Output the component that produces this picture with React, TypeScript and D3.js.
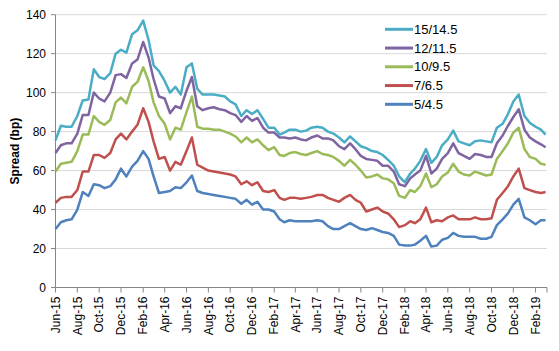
import React from 'react';
import * as d3 from 'd3';

// x-axis tick labels (every two months)
const tickLabels = [
  'Jun-15', 'Aug-15', 'Oct-15', 'Dec-15', 'Feb-16', 'Apr-16', 'Jun-16', 'Aug-16',
  'Oct-16', 'Dec-16', 'Feb-17', 'Apr-17', 'Jun-17', 'Aug-17', 'Oct-17', 'Dec-17',
  'Feb-18', 'Apr-18', 'Jun-18', 'Aug-18', 'Oct-18', 'Dec-18', 'Feb-19'
];
const yTicks = [0, 20, 40, 60, 80, 100, 120, 140];

const seriesNames = ['15/14.5', '12/11.5', '10/9.5', '7/6.5', '5/4.5'];
const seriesColors = ['#4BACC6', '#8064A2', '#9BBB59', '#C0504D', '#4F81BD'];

const s15 = [
  75.5, 83, 82.5, 82.5, 88, 96, 96.5, 112, 108, 107, 110, 120, 122, 120.5,
  130, 132, 137, 127, 114, 111, 106, 100, 103, 99, 113, 115, 102, 99, 99, 99, 98.5, 98, 95.5, 94, 88, 91, 89, 91,
  86.5, 82, 82, 78.5, 79.5, 81, 81, 80, 80.5, 82, 82.5, 82, 80, 79, 77, 74.5, 77.5, 75, 72.5, 71.5, 70, 69.5, 68, 65.5,
  62.5, 57, 54, 58.5, 61, 65, 71, 64, 67, 73, 76, 80.5, 75, 74, 73, 75, 75.5, 75, 74.5, 82, 84, 89, 95.5, 99,
  88, 84.5, 82.5, 81, 78.5
];
const s12 = [
  69, 73, 74, 74, 79, 88.5, 88.5, 100, 97, 95.5, 100, 109, 109.5, 107.5,
  115, 117, 126, 118, 107, 98, 97, 89.5, 93, 92, 101, 108, 93, 91, 92, 92.5, 91.5, 91, 89.5, 88.5, 85, 88, 85.5, 87,
  82, 79.5, 79.5, 77, 77, 76.5, 77, 76, 75.5, 77, 78, 76.5, 76.5, 75.5, 72.5, 71, 74, 71, 67.5, 66, 65.5, 65, 62.5, 62.5,
  59.5, 53, 52, 56, 58, 60, 67.5, 58.5, 61, 66, 69, 74, 69, 67.5, 66, 68.5, 68, 67, 67, 74, 78, 83, 87.5, 91.5,
  81, 77, 75, 73.5, 72
];
const s10 = [
  59.5, 63.5, 64, 64.5, 70, 78.5, 78.5, 88, 85, 83.5, 86, 95, 97.5, 94.5,
  103, 105.5, 113, 106, 95, 88, 84, 76, 82, 81, 90, 98, 82.5, 81.5, 81.5, 81, 81, 80, 79, 77.5, 74.5, 77, 74.5, 76,
  73, 70.5, 72, 68, 67.5, 69, 69.5, 68.5, 68, 69, 70, 68.5, 68, 67, 65, 62.5, 65.5, 63, 60, 56.5, 57, 58, 56, 55.5,
  53.5, 47, 46, 50, 49, 52, 58.5, 51.5, 53, 57, 59, 63.5, 59.5, 58, 57.5, 59.5, 58.5, 57.5, 58, 66, 70, 74, 79.5, 82,
  71, 67, 66, 63.5, 63
];
const s7 = [
  43.5, 46, 46.5, 46.5, 50, 59.5, 59.5, 68, 68, 66.5, 69, 76, 79, 76,
  80, 83.5, 92, 85, 75, 66, 67, 60, 64.5, 63, 70, 77, 63, 61.5, 60, 59.5, 59, 58.5, 58, 57, 53, 54.5, 52.5, 54,
  49.5, 49, 50, 46, 45, 46, 46, 45.5, 46, 46.5, 47.5, 47.5, 46, 45, 44, 46, 47.5, 45, 43.5, 39, 40, 41, 39, 38,
  35, 31, 32, 34, 33, 35, 41, 33.5, 34.5, 34, 36, 37, 35, 35, 35, 36, 35, 35, 35.5, 45, 48.5, 52, 57, 61,
  51, 50, 49, 48.5, 49
];
const s5 = [
  30, 33.5, 34.5, 35, 40, 49, 47, 53, 52.5, 51, 52, 55.5, 61, 57,
  62, 65, 70, 66, 57, 48.5, 49, 49.5, 51.5, 51, 54, 57.5, 49.5, 48.5, 48, 47.5, 47, 46.5, 46, 45.5, 43, 45, 42.5, 44,
  40, 40, 39, 35, 33.5, 34.5, 34, 34, 34, 34, 34.5, 34, 31.5, 30, 30, 31.5, 33, 31.5, 30, 29.5, 30.5, 29.5, 28.5, 28,
  26.5, 22, 21.5, 21.5, 22, 24, 26.5, 21, 21.5, 24.5, 25.5, 28, 26.5, 26, 26, 26, 25, 25, 26, 32, 35, 38, 42.5, 45.5,
  36, 34.5, 32.5, 34.5, 34.5
];
const seriesValues = [s15, s12, s10, s7, s5];

// observation dates: 1st and 16th of each month
const dates = d3
  .utcMonths(new Date(Date.UTC(2015, 5, 1)), new Date(Date.UTC(2019, 2, 2)))
  .flatMap(m => [m, d3.utcDay.offset(m, 15)])
  .slice(0, s15.length);

const parseTick = d3.utcParse('%b-%y');
const font = '"Liberation Sans", Arial, sans-serif';

const App = () => {
  const width = 559;
  const height = 351;

  const x = d3.scaleUtc()
    .domain([new Date(Date.UTC(2015, 5, 1)), new Date(Date.UTC(2019, 2, 5))])
    .range([55.5, 547]);
  const y = d3.scaleLinear().domain([0, 140]).range([287.5, 14.7]);

  const line = d3.line<[Date, number]>()
    .x(d => x(d[0]))
    .y(d => y(d[1]));

  return (
    <svg width={width} height={height} style={{ position: 'absolute', left: 0, top: 0, background: '#fff' }}
      fontFamily={font}>
      {/* gridlines */}
      {yTicks.filter(t => t > 0).map(t => (
        <line key={t} x1={55.5} x2={547} y1={y(t)} y2={y(t)} stroke="#D9D9D9" strokeWidth={1} />
      ))}

      {/* y axis */}
      <line x1={55.5} x2={55.5} y1={y(140)} y2={y(0)} stroke="#868686" />
      {yTicks.map(t => (
        <g key={t}>
          <line x1={51} x2={55.5} y1={y(t)} y2={y(t)} stroke="#868686" />
          <text x={46} y={y(t)} dy="0.35em" textAnchor="end" fontSize={12} fill="#000">{t}</text>
        </g>
      ))}
      <text transform={`translate(15,${(y(0) + y(140)) / 2}) rotate(-90)`} textAnchor="middle" dy="0.35em"
        fontSize={12} fontWeight="bold">Spread (bp)</text>

      {/* x axis */}
      <line x1={55.5} x2={547} y1={y(0)} y2={y(0)} stroke="#868686" />
      {tickLabels.map(lbl => {
        const tx = x(parseTick(lbl) as Date);
        return (
          <g key={lbl}>
            <line x1={tx} x2={tx} y1={y(0)} y2={y(0) + 5} stroke="#868686" />
            <text transform={`translate(${tx},${y(0) + 9}) rotate(-90)`} textAnchor="end" dy="0.35em"
              fontSize={12}>{lbl}</text>
          </g>
        );
      })}
      <line x1={547} x2={547} y1={y(0)} y2={y(0) + 5} stroke="#868686" />

      {/* series, bottom first so the top series sits above */}
      {seriesValues.map((vals, i) => i).reverse().map(i => (
        <path key={seriesNames[i]}
          d={line(dates.map((d, j) => [d, seriesValues[i][j]] as [Date, number])) || ''}
          fill="none" stroke={seriesColors[i]} strokeWidth={2.5} strokeLinejoin="round" />
      ))}

      {/* legend */}
      {seriesNames.map((name, i) => {
        const ly = 29.3 + i * 18.75;
        return (
          <g key={name}>
            <line x1={385} x2={413} y1={ly} y2={ly} stroke={seriesColors[i]} strokeWidth={3} />
            <text x={414} y={ly} dy="0.35em" fontSize={13}>{name}</text>
          </g>
        );
      })}
    </svg>
  );
};

export default App;
